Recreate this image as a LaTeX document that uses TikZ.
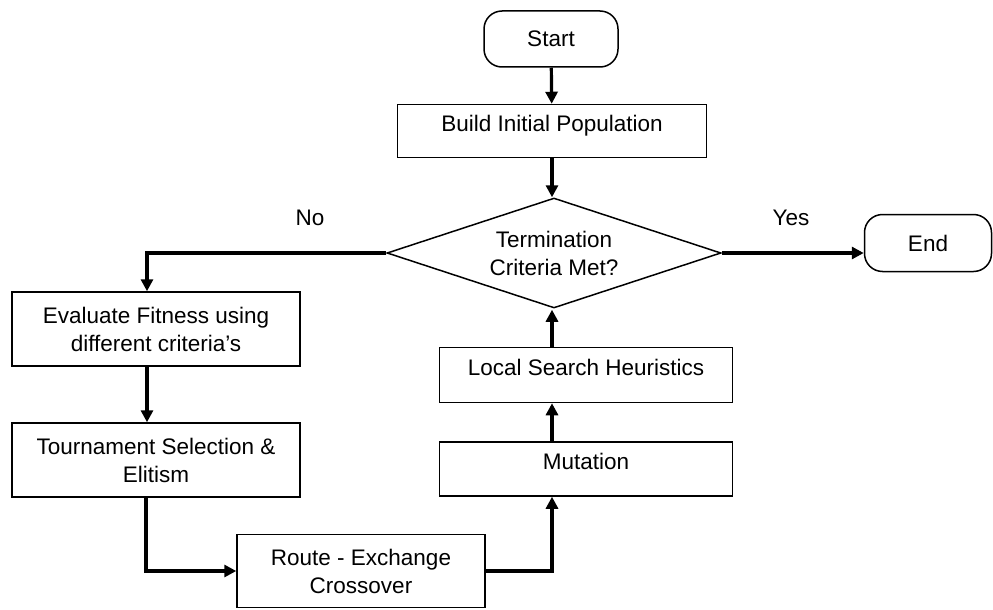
\documentclass[tikz,border=0pt]{standalone}
\usepackage{fontspec}
\setmainfont{Liberation Sans}
\usetikzlibrary{shapes.geometric,arrows.meta}
\begin{document}
\begin{tikzpicture}[x=1pt,y=-1pt,
  every node/.style={font=\fontsize{22.5}{28}\selectfont},
  box/.style={draw,line width=1.5pt,align=center,inner sep=0pt},
  term/.style={box,rounded corners=18pt},
  high/.style={text height=16pt,text depth=15pt},
  flow/.style={line width=3.2pt,-{Triangle[length=12pt,width=12pt]}}]
\useasboundingbox (0,0) rectangle (993,610);

\node[term,minimum width=134pt,minimum height=56pt] (start) at (551,39) {Start};
\node[box,high,minimum width=309pt,minimum height=53pt] (build) at (552,131) {Build Initial Population};
\node[box,diamond,aspect=3,minimum width=334pt,minimum height=110pt] (test) at (554,253) {Termination\\Criteria Met?};
\node[term,minimum width=127pt,minimum height=57pt] (end) at (928,243) {End};
\node[box,minimum width=288pt,minimum height=74pt] (eval) at (156,329) {Evaluate Fitness using\\different criteria's};
\node[box,minimum width=288pt,minimum height=74pt] (tourn) at (156,460) {Tournament Selection \&\\Elitism};
\node[box,minimum width=248pt,minimum height=73pt] (route) at (361,571) {Route - Exchange\\Crossover};
\node[box,high,minimum width=293pt,minimum height=54pt] (mut) at (586,469) {Mutation};
\node[box,high,minimum width=293pt,minimum height=55pt] (local) at (586,375) {Local Search Heuristics};
\node (lblno) at (310,218) {No};
\node (lblyes) at (791,218) {Yes};

\draw[flow] (start) -- (build);
\draw[flow] (build) -- (build.south |- test.north);
\draw[flow] (test.west) -| ([xshift=-9pt]eval.north);
\draw[flow] ([xshift=-9pt]eval.south) -- ([xshift=-9pt]tourn.north);
\draw[flow] ([xshift=-10pt]tourn.south) |- (route.west);
\draw[flow] (route.east) -| (mut.south -| build.south);
\draw[flow] (mut.north -| build.south) -- (local.south -| build.south);
\draw[flow] (local.north -| build.south) -- ([yshift=-1pt]test.south -| build.south);
\draw[flow] (test.east) -- (test.east -| end.west);
\end{tikzpicture}
\end{document}
